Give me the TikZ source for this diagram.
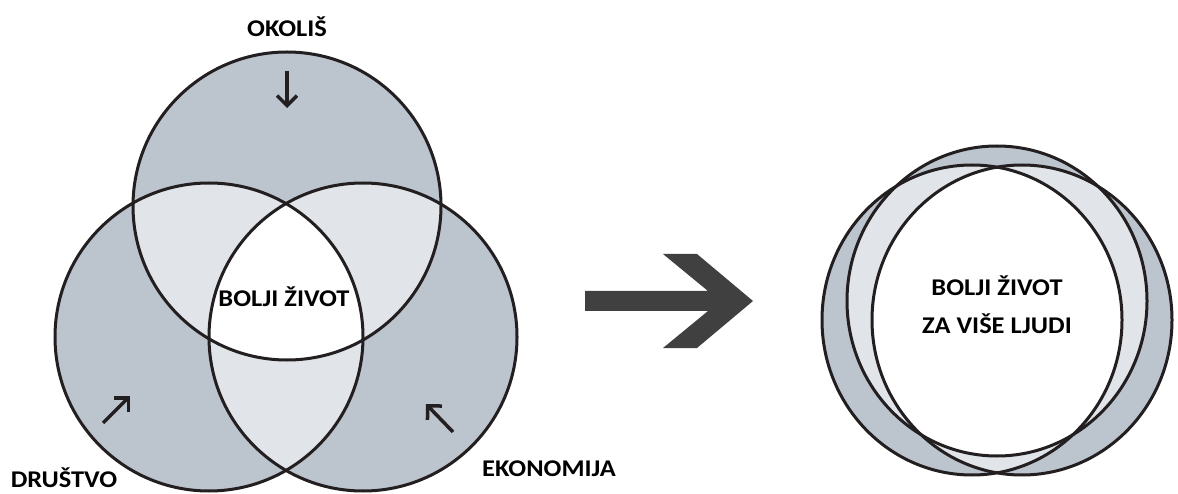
\documentclass[tikz,border=0pt]{standalone}
\usepackage{fontspec}
\setmainfont{Carlito}[FakeStretch=1.1]
\usepackage{tikz}
\usetikzlibrary{arrows.meta,positioning}
\definecolor{venndark}{RGB}{188,196,206}
\definecolor{vennlight}{RGB}{225,229,233}
\definecolor{vennline}{RGB}{35,31,32}
\definecolor{bigarrow}{RGB}{64,64,64}
\tikzstyle{vennlabel}=[font=\fontsize{24}{38}\selectfont\bfseries,inner sep=0pt,align=center]

\begin{document}
\begin{tikzpicture}[
  x=1pt,y=-1pt,
  ring/.style={draw=vennline,line width=3pt},
  pointer/.style={draw=vennline,line width=3.5pt,
    -{Straight Barb[length=10pt,width=20pt,line width=3.5pt]}}
]
\useasboundingbox (0,0) rectangle (1178,494);
\def\rad{154pt}
\def\erx{150pt}
\def\ery{155pt}

% venn centres
\coordinate (okolis) at (287,206);
\coordinate (drustvo) at (209,337);
\coordinate (ekonomija) at (363,337);

\fill[venndark] (okolis) circle[radius=\rad];
\fill[venndark] (drustvo) circle[radius=\rad];
\fill[venndark] (ekonomija) circle[radius=\rad];
\begin{scope}
  \clip (okolis) circle[radius=\rad];
  \fill[vennlight] (drustvo) circle[radius=\rad];
  \fill[vennlight] (ekonomija) circle[radius=\rad];
\end{scope}
\begin{scope}
  \clip (drustvo) circle[radius=\rad];
  \fill[vennlight] (ekonomija) circle[radius=\rad];
\end{scope}
\begin{scope}
  \clip (okolis) circle[radius=\rad];
  \clip (drustvo) circle[radius=\rad];
  \fill[white] (ekonomija) circle[radius=\rad];
\end{scope}
\draw[ring] (okolis) circle[radius=\rad];
\draw[ring] (drustvo) circle[radius=\rad];
\draw[ring] (ekonomija) circle[radius=\rad];

% merged ellipses
\coordinate (gore) at (997,301);
\coordinate (lijevo) at (972,320);
\coordinate (desno) at (1022,320);

\fill[venndark] (gore) ellipse[x radius=\erx,y radius=\ery];
\fill[venndark] (lijevo) ellipse[x radius=\erx,y radius=\ery];
\fill[venndark] (desno) ellipse[x radius=\erx,y radius=\ery];
\begin{scope}
  \clip (gore) ellipse[x radius=\erx,y radius=\ery];
  \fill[vennlight] (lijevo) ellipse[x radius=\erx,y radius=\ery];
  \fill[vennlight] (desno) ellipse[x radius=\erx,y radius=\ery];
\end{scope}
\begin{scope}
  \clip (lijevo) ellipse[x radius=\erx,y radius=\ery];
  \fill[vennlight] (desno) ellipse[x radius=\erx,y radius=\ery];
\end{scope}
\begin{scope}
  \clip (gore) ellipse[x radius=\erx,y radius=\ery];
  \clip (lijevo) ellipse[x radius=\erx,y radius=\ery];
  \fill[white] (desno) ellipse[x radius=\erx,y radius=\ery];
\end{scope}
\draw[ring] (gore) ellipse[x radius=\erx,y radius=\ery];
\draw[ring] (lijevo) ellipse[x radius=\erx,y radius=\ery];
\draw[ring] (desno) ellipse[x radius=\erx,y radius=\ery];

% big arrow
\fill[bigarrow] (585,291) -- (708,291) -- (663,254) -- (697,254) -- (753,301)
  -- (697,348) -- (663,348) -- (708,311) -- (585,311) -- cycle;

% labels
\node[vennlabel] (okolisL) at (287,27) {OKOLIŠ};
\node[vennlabel] (drustvoL) at (64,478) {DRUŠTVO};
\node[vennlabel] (ekonomijaL) at (549,469) {EKONOMIJA};
\node[vennlabel] (bolji) at (284,297) {BOLJI ŽIVOT};
\node[vennlabel] (boljiVise) at (997,305) {BOLJI ŽIVOT\\ZA VIŠE LJUDI};

% small arrows
\coordinate (a1) at (287,71);
\coordinate (a2) at (287,108);
\coordinate (b1) at (103,423);
\coordinate (b2) at (130,396);
\coordinate (c1) at (453,432);
\coordinate (c2) at (426,404);
\draw[pointer] (a1) -- (a2);
\draw[pointer] (b1) -- (b2);
\draw[pointer] (c1) -- (c2);

\end{tikzpicture}
\end{document}
